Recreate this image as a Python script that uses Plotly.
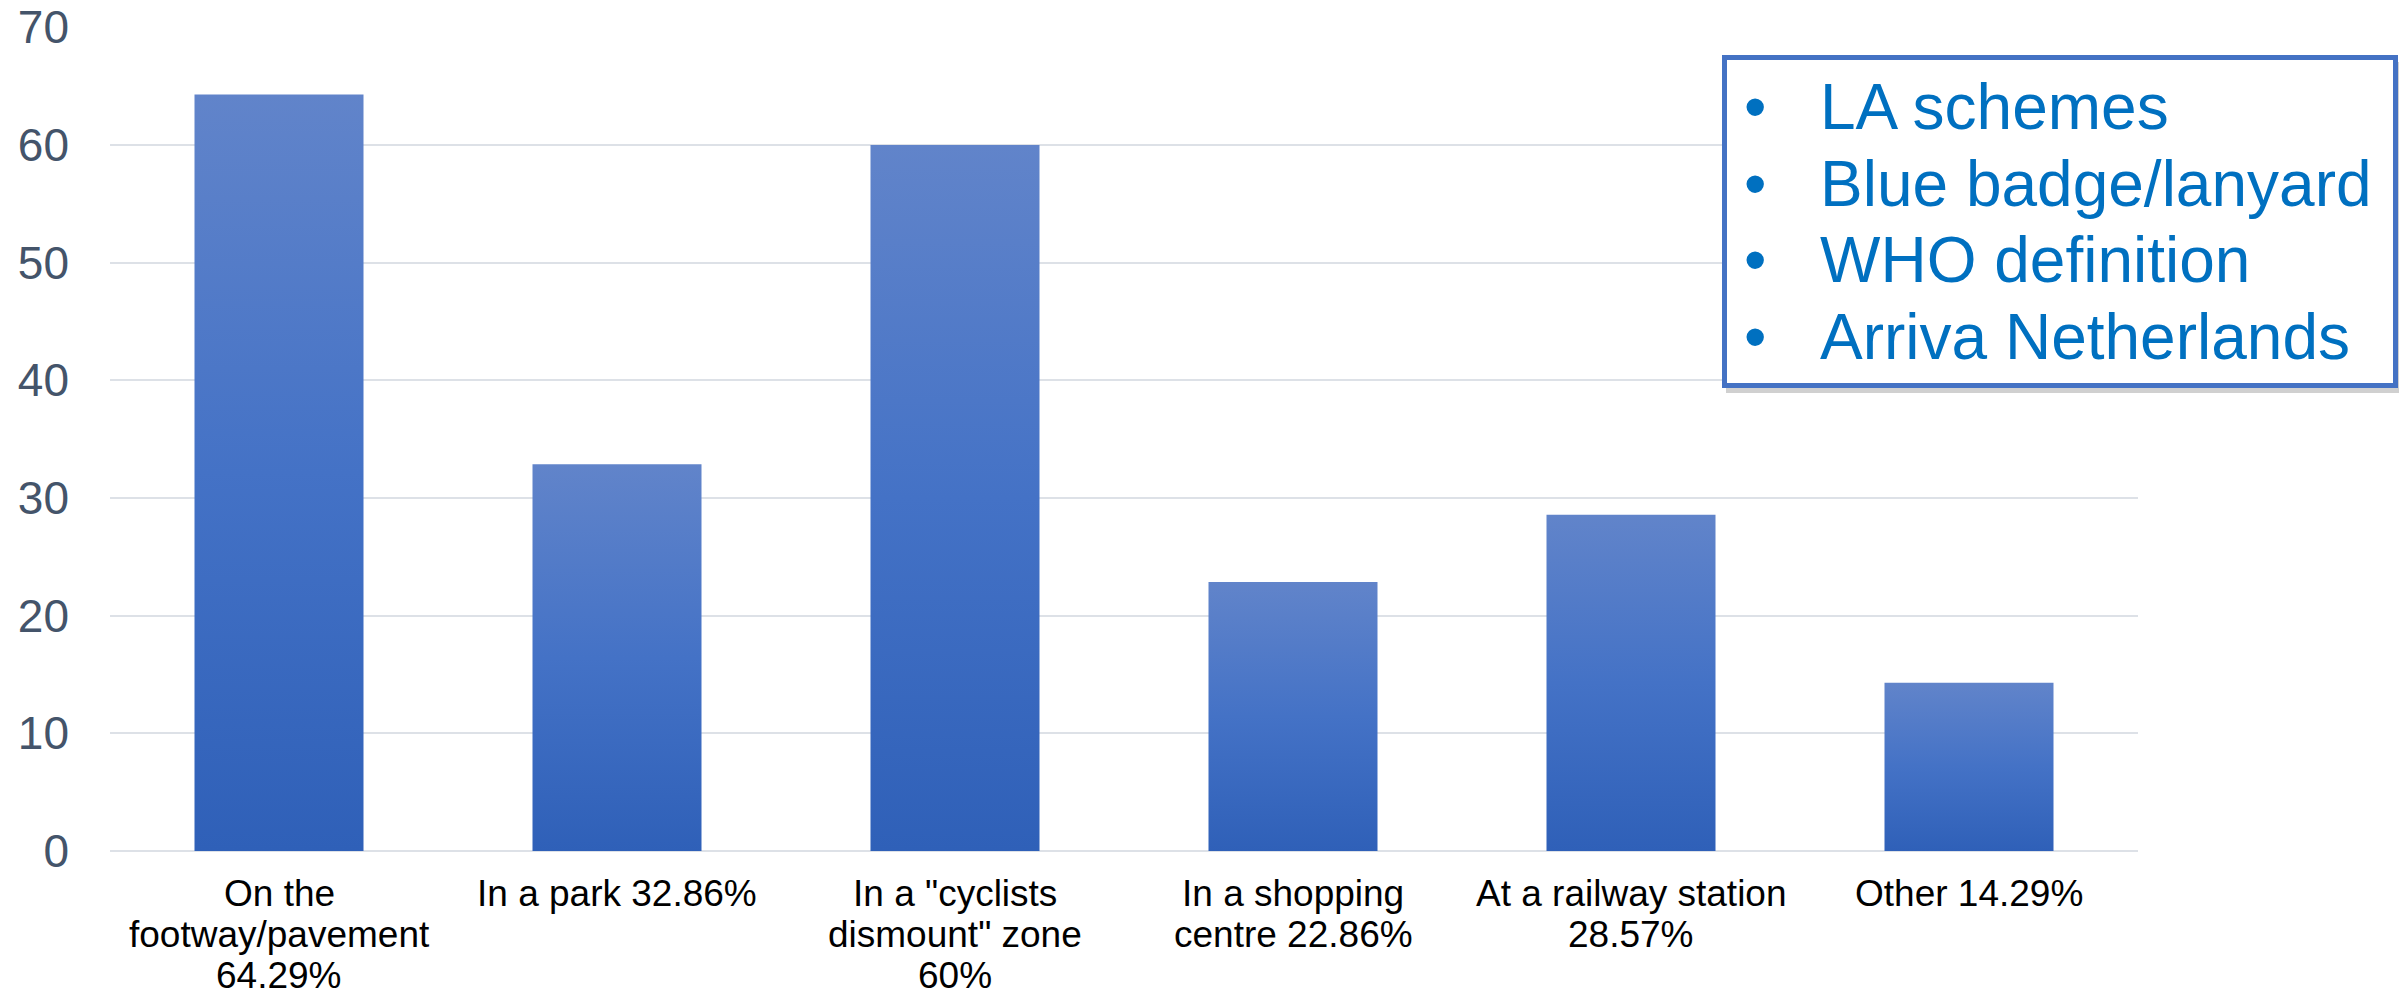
import plotly.graph_objects as go

categories = [
    "On the<br>footway/pavement<br>64.29%",
    "In a park 32.86%",
    "In a \"cyclists<br>dismount\" zone<br>60%",
    "In a shopping<br>centre 22.86%",
    "At a railway station<br>28.57%",
    "Other 14.29%",
]
values = [64.29, 32.86, 60, 22.86, 28.57, 14.29]
y_ticks = [0, 10, 20, 30, 40, 50, 60, 70]
legend_items = ["LA schemes", "Blue badge/lanyard", "WHO definition", "Arriva Netherlands"]

W, H = 2399, 999
L, R, T, B = 110, 261, 27, 148
PW, PH = W - L - R, H - T - B

def px(x):
    return (x - L) / PW

def py(y):
    return (H - B - y) / PH

FONT = "Arial, Liberation Sans, sans-serif"
half = 0.25

fig = go.Figure()
for i, v in enumerate(values):
    fig.add_trace(go.Scatter(
        x=[i - half, i - half, i + half, i + half, i - half],
        y=[0, v, v, 0, 0],
        mode="lines",
        line=dict(width=0, color="rgba(0,0,0,0)"),
        fill="toself",
        fillgradient=dict(
            type="vertical",
            colorscale=[[0, "#2F60B8"], [0.5, "#4472C6"], [1, "#6184CA"]],
        ),
        hoverinfo="skip",
        showlegend=False,
        cliponaxis=False,
    ))

shapes = [
    dict(type="rect", xref="paper", yref="paper",
         x0=px(1726), x1=px(2399), y0=py(393), y1=py(62),
         line=dict(width=0), fillcolor="rgba(120,120,120,0.35)", layer="above"),
    dict(type="rect", xref="paper", yref="paper",
         x0=px(1724.5), x1=px(2395.5), y0=py(385.5), y1=py(57.5),
         line=dict(width=5, color="#4472C4"), fillcolor="white", layer="above"),
]

annotations = []
line_y = [107, 184, 260, 337]
for item, yy in zip(legend_items, line_y):
    annotations.append(dict(
        text="•", xref="paper", yref="paper", x=px(1755), y=py(yy),
        xanchor="center", yanchor="middle", showarrow=False,
        font=dict(family=FONT, size=64, color="#0070C0")))
    annotations.append(dict(
        text=item, xref="paper", yref="paper", x=px(1818), y=py(yy),
        xanchor="left", yanchor="middle", showarrow=False,
        font=dict(family=FONT, size=64, color="#0070C0")))

# category labels, one annotation per line for tight line spacing
line_offsets = [42, 83, 124]
for i, cat in enumerate(categories):
    for j, part in enumerate(cat.split("<br>")):
        annotations.append(dict(
            text=part, xref="x", yref="paper", x=i, y=0,
            yshift=-line_offsets[j],
            xanchor="center", yanchor="middle", showarrow=False,
            font=dict(family=FONT, size=37, color="#000000")))

fig.update_layout(
    width=W, height=H,
    margin=dict(l=L, r=R, t=T, b=B, pad=0, autoexpand=False),
    paper_bgcolor="white", plot_bgcolor="white",
    shapes=shapes, annotations=annotations,
    xaxis=dict(
        range=[-0.5, len(values) - 0.5],
        tickmode="array", tickvals=list(range(len(categories))),
        showticklabels=False,
        showgrid=False, zeroline=False, showline=False, ticks="",
        automargin=False,
        fixedrange=True,
    ),
    yaxis=dict(
        range=[0, 70.02], tickmode="array", tickvals=y_ticks,
        showgrid=True, gridcolor="#DDE1E7", gridwidth=2,
        zeroline=True, zerolinecolor="#DDE1E7", zerolinewidth=2,
        showline=False, ticks="",
        tickfont=dict(family=FONT, size=46, color="#44546A"),
        ticklabelstandoff=40,
        automargin=False,
        fixedrange=True,
    ),
)

fig.write_html("out.html")
